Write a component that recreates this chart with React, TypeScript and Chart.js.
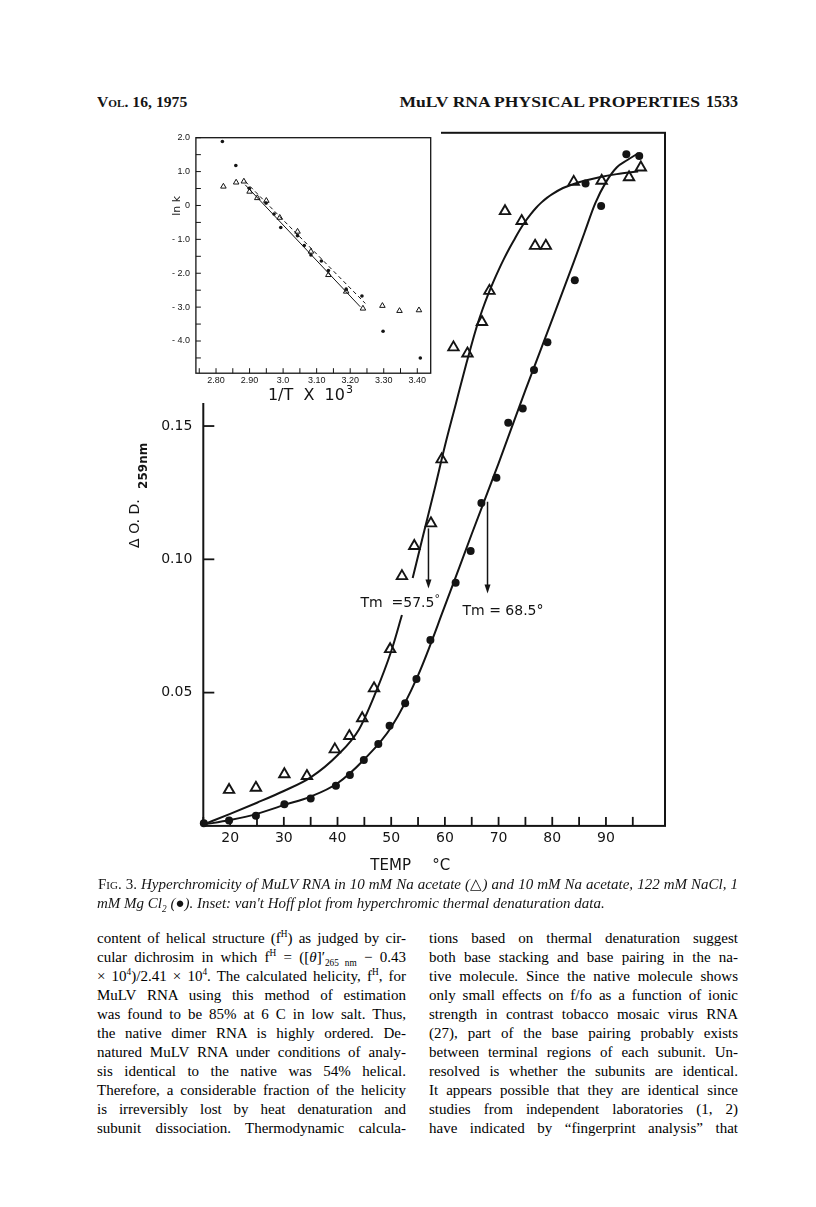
import React, { useEffect, useRef } from "react";
import { Chart, registerables } from "chart.js";

Chart.register(...registerables);

const INK = "#141414";

// ---------------- Main chart data ----------------
// Open triangles: 10 mM Na acetate
const TRI_TEMP = [19.8, 24.8, 30.1, 34.3, 39.5, 42.2, 44.6, 46.8, 49.8, 52.0, 54.3, 57.4, 59.4, 61.6, 64.2, 66.9, 68.3, 71.2, 74.3, 76.8, 78.8, 84.0, 89.2, 94.3, 96.5];
const TRI_OD = [0.0135, 0.0143, 0.0194, 0.0187, 0.0287, 0.0337, 0.0404, 0.0516, 0.0663, 0.0937, 0.105, 0.1135, 0.1375, 0.1795, 0.1772, 0.189, 0.2007, 0.2306, 0.2269, 0.2176, 0.2176, 0.2416, 0.242, 0.2433, 0.247];

// Filled circles: 10 mM Na acetate, 122 mM NaCl, 1 mM MgCl2
const CIRC_TEMP = [15.1, 19.8, 24.8, 30.1, 35.0, 39.7, 42.3, 44.9, 47.6, 49.7, 52.6, 54.7, 57.3, 62.0, 64.8, 66.8, 69.6, 71.8, 74.5, 76.6, 79.1, 84.2, 86.2, 89.1, 93.8, 96.2];
const CIRC_OD = [0.001, 0.002, 0.0038, 0.0081, 0.0103, 0.0151, 0.0191, 0.0247, 0.0307, 0.0376, 0.046, 0.0551, 0.0697, 0.0912, 0.1031, 0.1211, 0.1306, 0.1512, 0.1566, 0.171, 0.1814, 0.2047, 0.241, 0.2325, 0.252, 0.2513];

// Hand-drawn smooth curves (null = break in the line behind the Tm label)
const TRI_FIT_TEMP = [15, 20, 25, 30, 35, 40, 44, 47, 50, 52, 53, 54, 56, 58, 60, 62, 64, 65, 66, 67, 68, 69, 70, 71, 72, 73, 74, 75, 76, 77, 78, 79, 80, 82, 84, 86, 89, 92, 96];
const TRI_FIT_OD = [0.0005, 0.0045, 0.0087, 0.0131, 0.0182, 0.0265, 0.0362, 0.0495, 0.0655, 0.0791, null, 0.093, 0.1094, 0.1256, 0.1425, 0.158, 0.1735, 0.1808, 0.1877, 0.1937, 0.1991, 0.204, 0.2085, 0.2127, 0.2166, 0.2202, 0.2237, 0.2268, 0.2295, 0.2319, 0.2339, 0.2356, 0.237, 0.2393, 0.2408, 0.242, 0.2434, 0.2445, 0.2455];
const CIRC_FIT_TEMP = [15, 20, 25, 30, 35, 40, 45, 50, 55, 60, 65, 70, 75, 80, 84, 86, 88, 90, 92, 94, 96];
const CIRC_FIT_OD = [0.0005, 0.0022, 0.0045, 0.0078, 0.011, 0.016, 0.025, 0.037, 0.0565, 0.0825, 0.1095, 0.136, 0.1635, 0.19, 0.2115, 0.2225, 0.2335, 0.2415, 0.247, 0.2498, 0.2523];

const X_TICKS = [15, 20, 25, 30, 35, 40, 45, 50, 55, 60, 65, 70, 75, 80, 85, 90, 95];
const X_LABELS = [20, 30, 40, 50, 60, 70, 80, 90];
const Y_TICKS = [0.05, 0.1, 0.15];
const Y_LABELS = ["0.05", "0.10", "0.15"];

// Melting temperatures with arrow extents
const TM_VALUES = [57.5, 68.5];
const TM_TEXT = ["Tm  =57.5", "Tm = 68.5°"];
const TM_ARROW_TOP = [0.1116, 0.1216];
const TM_ARROW_BOTTOM = [0.0891, 0.0872];

// ---------------- Inset (van't Hoff) data ----------------
const INSET_TRI_X = [2.822, 2.86, 2.883, 2.9, 2.923, 2.95, 2.99, 3.043, 3.083, 3.135, 3.188, 3.238, 3.296, 3.347, 3.405];
const INSET_TRI_Y = [0.56, 0.68, 0.71, 0.41, 0.22, 0.14, -0.36, -0.77, -1.36, -2.05, -2.54, -3.04, -2.96, -3.11, -3.09];
const INSET_CIRC_X = [2.819, 2.859, 2.899, 2.949, 2.973, 2.993, 3.043, 3.063, 3.083, 3.114, 3.135, 3.188, 3.235, 3.298, 3.409];
const INSET_CIRC_Y = [1.89, 1.18, 0.51, 0.07, -0.25, -0.65, -0.89, -1.18, -1.46, -1.64, -1.92, -2.47, -2.67, -3.71, -4.5];
const INSET_SOLID_X = [2.887, 3.23];
const INSET_SOLID_Y = [0.61, -2.99];
const INSET_DASH_X = [2.887, 3.245];
const INSET_DASH_Y = [0.71, -2.89];

const INSET_X_TICKS = [2.75, 2.8, 2.85, 2.9, 2.95, 3.0, 3.05, 3.1, 3.15, 3.2, 3.25, 3.3, 3.35, 3.4];
const INSET_X_LABEL_VALUES = [2.8, 2.9, 3.0, 3.1, 3.2, 3.3, 3.4];
const INSET_X_LABELS = ["2.80", "2.90", "3.0", "3.10", "3.20", "3.30", "3.40"];
const INSET_Y_TICKS = [2, 1.5, 1, 0.5, 0, -0.5, -1, -1.5, -2, -2.5, -3, -3.5, -4, -4.5];
const INSET_Y_LABEL_VALUES = [2, 1, 0, -1, -2, -3, -4];
const INSET_Y_LABELS = ["2.0", "1.0", "0", "- 1.0", "- 2.0", "- 3.0", "- 4.0"];

const zip = (xs: number[], ys: (number | null)[]) => xs.map((x, i) => ({ x, y: ys[i] }));
const findLabel = (vals: number[], labels: string[], v: number) => {
  const i = vals.findIndex((t) => Math.abs(t - v) < 1e-6);
  return i >= 0 ? labels[i] : "";
};

const SANS = '"DejaVu Sans", sans-serif';
const NARROW = '"Liberation Sans Narrow", "Liberation Sans", sans-serif';

const mainDecor = {
  id: "mainDecor",
  afterDraw(chart: any) {
    const { ctx, chartArea: a, scales } = chart;
    const x = scales.x;
    const y = scales.y;
    const line = (x1: number, y1: number, x2: number, y2: number) => {
      ctx.beginPath();
      ctx.moveTo(x1, y1);
      ctx.lineTo(x2, y2);
      ctx.stroke();
    };
    ctx.save();
    ctx.strokeStyle = INK;
    ctx.fillStyle = INK;
    ctx.lineWidth = 2;
    ctx.strokeRect(a.left, a.top, a.right - a.left, a.bottom - a.top);
    ctx.lineWidth = 1.8;
    X_TICKS.forEach((v) => {
      const px = x.getPixelForValue(v);
      line(px, a.bottom, px, a.bottom - 9);
    });
    Y_TICKS.forEach((v) => {
      const py = y.getPixelForValue(v);
      line(a.left, py, a.left + 11, py);
    });
    // Tm arrows and labels
    ctx.font = `14px ${SANS}`;
    ctx.textBaseline = "alphabetic";
    ctx.textAlign = "left";
    TM_VALUES.forEach((tm, i) => {
      const px = x.getPixelForValue(tm) - 3;
      const y1 = y.getPixelForValue(TM_ARROW_TOP[i]);
      const y2 = y.getPixelForValue(TM_ARROW_BOTTOM[i]);
      ctx.lineWidth = 1.5;
      line(px, y1, px, y2 - 6);
      ctx.beginPath();
      ctx.moveTo(px - 3, y2 - 9);
      ctx.lineTo(px + 3, y2 - 9);
      ctx.lineTo(px, y2);
      ctx.closePath();
      ctx.fill();
      ctx.font = `14px ${SANS}`;
      if (i === 0) {
        const lx = px - 68;
        const by = y2 + 19;
        ctx.fillText(TM_TEXT[i], lx, by);
        const w = ctx.measureText(TM_TEXT[i]).width;
        ctx.font = `11px ${SANS}`;
        ctx.fillText("°", lx + w, by - 5);
      } else {
        ctx.fillText(TM_TEXT[i], px - 25, y2 + 22);
      }
    });
    // x-axis title
    ctx.font = `15px ${SANS}`;
    ctx.fillText("TEMP", a.left + 167, a.bottom + 44);
    ctx.fillText("°C", a.left + 229, a.bottom + 44);
    // y-axis title (rotated)
    ctx.translate(a.left - 64, a.bottom - 278);
    ctx.rotate(-Math.PI / 2);
    ctx.font = `14px ${SANS}`;
    ctx.fillText("Δ O. D.", 0, 0);
    ctx.font = `bold 12px ${SANS}`;
    ctx.fillText("259nm", 59, 8);
    ctx.restore();
  },
};

const insetDecor = {
  id: "insetDecor",
  afterDraw(chart: any) {
    const { ctx, chartArea: a, scales } = chart;
    const x = scales.x;
    const y = scales.y;
    const line = (x1: number, y1: number, x2: number, y2: number) => {
      ctx.beginPath();
      ctx.moveTo(x1, y1);
      ctx.lineTo(x2, y2);
      ctx.stroke();
    };
    ctx.save();
    ctx.strokeStyle = INK;
    ctx.fillStyle = INK;
    ctx.lineWidth = 1.3;
    ctx.strokeRect(a.left, a.top, a.right - a.left, a.bottom - a.top);
    ctx.lineWidth = 1;
    INSET_X_TICKS.forEach((v) => {
      const px = x.getPixelForValue(v);
      line(px, a.bottom, px, a.bottom - 5);
    });
    INSET_Y_TICKS.forEach((v) => {
      const py = y.getPixelForValue(v);
      line(a.left, py, a.left + 5, py);
    });
    ctx.textAlign = "left";
    ctx.textBaseline = "alphabetic";
    ctx.font = `16px ${SANS}`;
    const title = "1/T  X  10";
    const tx = a.left + 72;
    ctx.fillText(title, tx, a.bottom + 27);
    const w = ctx.measureText(title).width;
    ctx.font = `11px ${SANS}`;
    ctx.fillText("3", tx + w + 1, a.bottom + 19.5);
    ctx.translate(a.left - 16, a.top + 78);
    ctx.rotate(-Math.PI / 2);
    ctx.font = `11px ${SANS}`;
    ctx.fillText("ln k", 0, 0);
    ctx.restore();
  },
};

function MainChart() {
  const ref = useRef<HTMLCanvasElement>(null);
  useEffect(() => {
    const chart = new Chart(ref.current as HTMLCanvasElement, {
      type: "scatter",
      data: {
        datasets: [
          {
            data: zip(TRI_TEMP, TRI_OD),
            pointStyle: "triangle",
            pointRadius: 6,
            pointBorderWidth: 1.9,
            pointBackgroundColor: "rgba(255,255,255,0)",
            pointBorderColor: INK,
            showLine: false,
            clip: false,
          },
          {
            data: zip(CIRC_TEMP, CIRC_OD),
            pointStyle: "circle",
            pointRadius: 4,
            pointBorderWidth: 0,
            pointBackgroundColor: INK,
            pointBorderColor: INK,
            showLine: false,
            clip: false,
          },
          {
            data: zip(TRI_FIT_TEMP, TRI_FIT_OD),
            showLine: true,
            spanGaps: false,
            pointRadius: 0,
            borderColor: INK,
            borderWidth: 2,
            cubicInterpolationMode: "monotone",
            clip: false,
          },
          {
            data: zip(CIRC_FIT_TEMP, CIRC_FIT_OD),
            showLine: true,
            pointRadius: 0,
            borderColor: INK,
            borderWidth: 2,
            cubicInterpolationMode: "monotone",
            clip: false,
          },
        ],
      } as any,
      options: {
        responsive: false,
        maintainAspectRatio: false,
        animation: false,
        events: [],
        layout: { padding: { left: 0, top: 32.8, right: 55, bottom: 0 } },
        plugins: { legend: { display: false }, tooltip: { enabled: false }, title: { display: false } },
        scales: {
          x: {
            type: "linear",
            min: 15,
            max: 101,
            afterBuildTicks: (s: any) => {
              s.ticks = X_TICKS.map((v) => ({ value: v }));
            },
            afterFit: (s: any) => {
              s.height = 74.1;
            },
            grid: { display: false, drawTicks: false, tickLength: 0 },
            border: { display: false },
            ticks: {
              autoSkip: false,
              maxRotation: 0,
              padding: 4,
              color: INK,
              font: { family: SANS, size: 14 },
              callback: (v: any) => (X_LABELS.includes(v) ? String(v) : ""),
            },
          },
          y: {
            type: "linear",
            min: 0,
            max: 0.26,
            afterBuildTicks: (s: any) => {
              s.ticks = Y_TICKS.map((v) => ({ value: v }));
            },
            afterFit: (s: any) => {
              s.width = 103.3;
            },
            grid: { display: false, drawTicks: false, tickLength: 0 },
            border: { display: false },
            ticks: {
              autoSkip: false,
              padding: 11,
              color: INK,
              font: { family: SANS, size: 14 },
              callback: (v: any) => findLabel(Y_TICKS, Y_LABELS, v),
            },
          },
        },
      } as any,
      plugins: [mainDecor],
    });
    return () => chart.destroy();
  }, []);
  return (
    <canvas
      ref={ref}
      width={620}
      height={800}
      style={{ position: "absolute", left: 100, top: 100, width: 620, height: 800 }}
    />
  );
}

function InsetChart() {
  const ref = useRef<HTMLCanvasElement>(null);
  useEffect(() => {
    const chart = new Chart(ref.current as HTMLCanvasElement, {
      type: "scatter",
      data: {
        datasets: [
          {
            data: zip(INSET_TRI_X, INSET_TRI_Y),
            pointStyle: "triangle",
            pointRadius: 3.2,
            pointBorderWidth: 1,
            pointBackgroundColor: "rgba(255,255,255,0)",
            pointBorderColor: INK,
            showLine: false,
            clip: false,
          },
          {
            data: zip(INSET_CIRC_X, INSET_CIRC_Y),
            pointStyle: "circle",
            pointRadius: 1.8,
            pointBorderWidth: 0,
            pointBackgroundColor: INK,
            showLine: false,
            clip: false,
          },
          {
            data: zip(INSET_SOLID_X, INSET_SOLID_Y),
            showLine: true,
            pointRadius: 0,
            borderColor: INK,
            borderWidth: 1,
          },
          {
            data: zip(INSET_DASH_X, INSET_DASH_Y),
            showLine: true,
            pointRadius: 0,
            borderColor: INK,
            borderWidth: 1,
            borderDash: [4, 3],
          },
        ],
      } as any,
      options: {
        responsive: false,
        maintainAspectRatio: false,
        animation: false,
        events: [],
        layout: { padding: { left: 0, top: 19.7, right: 10.3, bottom: 0 } },
        plugins: { legend: { display: false }, tooltip: { enabled: false }, title: { display: false } },
        scales: {
          x: {
            type: "linear",
            min: 2.74,
            max: 3.44,
            afterBuildTicks: (s: any) => {
              s.ticks = INSET_X_TICKS.map((v) => ({ value: v }));
            },
            afterFit: (s: any) => {
              s.height = 29.8;
            },
            grid: { display: false, drawTicks: false, tickLength: 0 },
            border: { display: false },
            ticks: {
              autoSkip: false,
              maxRotation: 0,
              padding: 2,
              color: INK,
              font: { family: NARROW, size: 9 },
              callback: (v: any) => findLabel(INSET_X_LABEL_VALUES, INSET_X_LABELS, v),
            },
          },
          y: {
            type: "linear",
            min: -4.95,
            max: 2.0,
            afterBuildTicks: (s: any) => {
              s.ticks = INSET_Y_TICKS.map((v) => ({ value: v }));
            },
            afterFit: (s: any) => {
              s.width = 45.9;
            },
            grid: { display: false, drawTicks: false, tickLength: 0 },
            border: { display: false },
            ticks: {
              autoSkip: false,
              padding: 6,
              color: INK,
              font: { family: NARROW, size: 9 },
              callback: (v: any) => findLabel(INSET_Y_LABEL_VALUES, INSET_Y_LABELS, v),
            },
          },
        },
      } as any,
      plugins: [insetDecor],
    });
    return () => chart.destroy();
  }, []);
  return (
    <canvas
      ref={ref}
      width={291}
      height={285}
      style={{ position: "absolute", left: 150, top: 118, width: 291, height: 285, background: "#fff" }}
    />
  );
}

const SERIF = '"Liberation Serif", "Times New Roman", serif';

const LEFT_LINES: React.ReactNode[] = [
  <>content of helical structure (f<sup>H</sup>) as judged by cir-</>,
  <>cular dichrosim in which f<sup>H</sup> = ([<i>θ</i>]′<sub>265 nm</sub> − 0.43</>,
  <>× 10<sup>4</sup>)/2.41 × 10<sup>4</sup>. The calculated helicity, f<sup>H</sup>, for</>,
  <>MuLV RNA using this method of estimation</>,
  <>was found to be 85% at 6 C in low salt. Thus,</>,
  <>the native dimer RNA is highly ordered. De-</>,
  <>natured MuLV RNA under conditions of analy-</>,
  <>sis identical to the native was 54% helical.</>,
  <>Therefore, a considerable fraction of the helicity</>,
  <>is irreversibly lost by heat denaturation and</>,
  <>subunit dissociation. Thermodynamic calcula-</>,
];

const RIGHT_LINES: React.ReactNode[] = [
  <>tions based on thermal denaturation suggest</>,
  <>both base stacking and base pairing in the na-</>,
  <>tive molecule. Since the native molecule shows</>,
  <>only small effects on f/fo as a function of ionic</>,
  <>strength in contrast tobacco mosaic virus RNA</>,
  <>(27), part of the base pairing probably exists</>,
  <>between terminal regions of each subunit. Un-</>,
  <>resolved is whether the subunits are identical.</>,
  <>It appears possible that they are identical since</>,
  <>studies from independent laboratories (1, 2)</>,
  <>have indicated by “fingerprint analysis” that</>,
];

function Column({ lines, left }: { lines: React.ReactNode[]; left: number }) {
  return (
    <>
      {lines.map((ln, i) => (
        <div
          key={i}
          style={{
            position: "absolute",
            left,
            top: 929 + i * 19,
            width: 309,
            height: 19,
            lineHeight: "19px",
            fontFamily: SERIF,
            fontSize: 15,
            color: "#000",
            textAlign: "justify",
            textAlignLast: "justify" as any,
          }}
        >
          {ln}
        </div>
      ))}
    </>
  );
}

export default function App() {
  return (
    <div
      style={{
        position: "absolute",
        left: 0,
        top: 0,
        width: 816,
        height: 1207,
        background: "#fff",
        overflow: "hidden",
        color: INK,
      }}
    >
      <style>{`sup{font-size:0.62em;line-height:0;} sub{font-size:0.62em;line-height:0;}`}</style>
      {/* Running head */}
      <div
        style={{
          position: "absolute",
          left: 97,
          top: 94,
          fontFamily: SERIF,
          fontSize: 14,
          fontWeight: "bold",
          lineHeight: "18px",
          whiteSpace: "nowrap",
          transform: "scaleX(1.12)",
          transformOrigin: "left center",
        }}
      >
        V<span style={{ fontVariant: "small-caps" }}>ol</span>. 16, 1975
      </div>
      <div
        style={{
          position: "absolute",
          left: 297,
          top: 94,
          width: 403,
          textAlign: "right",
          fontFamily: SERIF,
          fontSize: 14,
          fontWeight: "bold",
          lineHeight: "18px",
          whiteSpace: "nowrap",
          transform: "scaleX(1.255)",
          transformOrigin: "right center",
        }}
      >
        MuLV RNA PHYSICAL PROPERTIES
      </div>
      <div
        style={{
          position: "absolute",
          left: 650,
          top: 93,
          width: 88,
          textAlign: "right",
          fontFamily: SERIF,
          fontSize: 16,
          fontWeight: "bold",
          lineHeight: "18px",
        }}
      >
        1533
      </div>

      <MainChart />
      <InsetChart />

      {/* Caption */}
      <div
        style={{
          position: "absolute",
          left: 98,
          top: 875,
          width: 640,
          fontFamily: SERIF,
          fontSize: 15,
          lineHeight: "19px",
          fontStyle: "italic",
          textAlign: "justify",
          textAlignLast: "justify" as any,
          whiteSpace: "nowrap",
        }}
      >
        <span style={{ fontStyle: "normal", fontVariant: "small-caps" }}>Fig. 3.</span> Hyperchromicity of MuLV RNA in
        10 mM Na acetate (<span style={{ fontStyle: "normal" }}>△</span>) and 10 mM Na acetate, 122 mM NaCl, 1
      </div>
      <div
        style={{
          position: "absolute",
          left: 97,
          top: 894,
          width: 641,
          fontFamily: SERIF,
          fontSize: 15,
          lineHeight: "19px",
          fontStyle: "italic",
          whiteSpace: "nowrap",
        }}
      >
        mM Mg Cl<sub>2</sub> (<span style={{ fontStyle: "normal" }}>●</span>). Inset: van't Hoff plot from
        hyperchromic thermal denaturation data.
      </div>

      <Column lines={LEFT_LINES} left={97} />
      <Column lines={RIGHT_LINES} left={429} />
    </div>
  );
}
